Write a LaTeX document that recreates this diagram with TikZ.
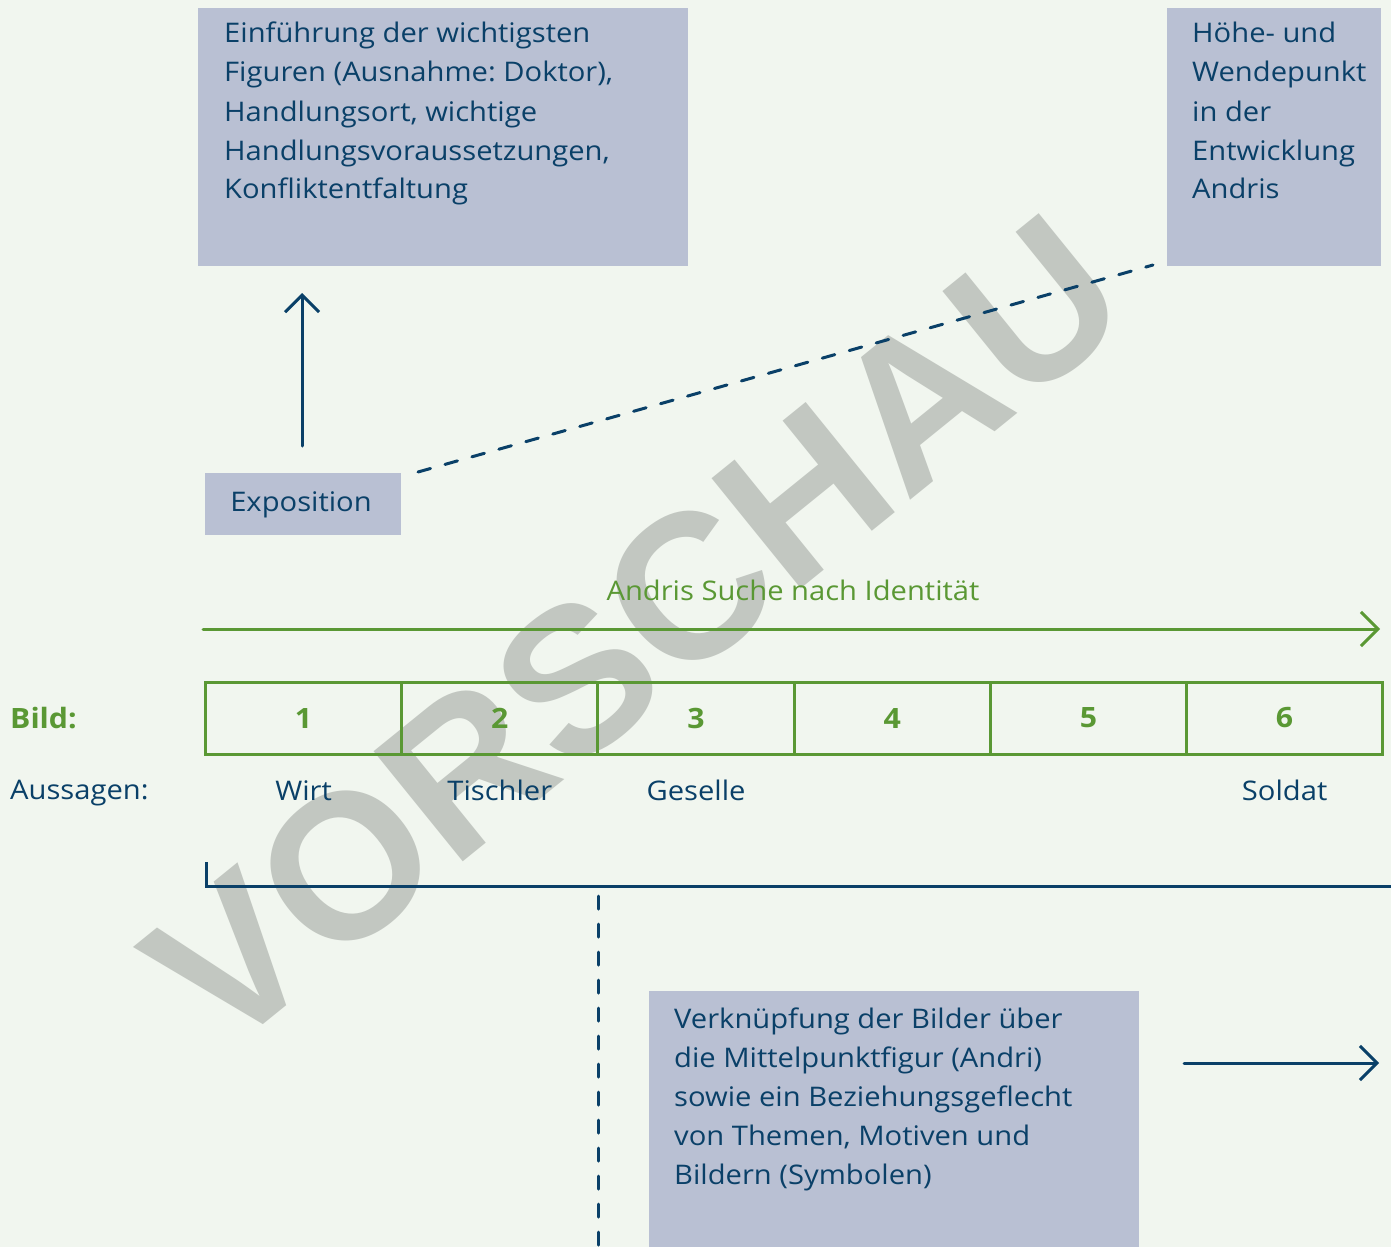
\documentclass[tikz,border=0pt]{standalone}
\usepackage{fontspec}
\setmainfont[FakeStretch=1.08]{Open Sans}
\newfontfamily\wmfont{Liberation Sans}
\usetikzlibrary{arrows.meta,calc}
\definecolor{bg}{RGB}{241,246,239}
\definecolor{boxc}{RGB}{185,192,211}
\definecolor{navy}{RGB}{10,64,104}
\definecolor{leaf}{RGB}{90,152,52}
\definecolor{wm}{RGB}{194,199,193}
\frenchspacing
\newcommand{\mylines}[1]{\vtop{\baselineskip=39pt\lineskiplimit=-100pt #1}}
\begin{document}
\begin{tikzpicture}[x=1pt,y=-1pt,
  panel/.style={fill=boxc, draw=none, inner sep=0pt, outer sep=0pt, anchor=north west},
  paneltext/.style={anchor=base west, inner sep=0pt, text=navy, font=\fontsize{27}{39}\selectfont},
  navyline/.style={draw=navy, line width=3pt, line cap=round, line join=round},
  greenline/.style={draw=leaf, line width=3pt},
  barb/.style={-{Straight Barb[length=17pt,width=34pt]}},
  dashline/.style={navyline, dash pattern=on 13pt off 15pt},
  cell/.style={draw=leaf, line width=3pt, minimum width=196.2pt, minimum height=72pt, inner sep=0pt, text=leaf, font=\bfseries\fontsize{28}{28}\selectfont},
  label/.style={inner sep=0pt, text=navy, font=\fontsize{27}{27}\selectfont}
]
\useasboundingbox (0,0) rectangle (1391,1247);
\fill[bg] (0,0) rectangle (1391,1247);

% watermark
\node[rotate=39, inner sep=0pt, text=wm, font=\wmfont\bfseries\fontsize{206}{206}\selectfont] (wmark) at (635,632) {VORSCHAU};

% panels
\node[panel, minimum width=490pt, minimum height=258pt] (intro) at (198,8) {};
\node[panel, minimum width=214pt, minimum height=258pt] (peak) at (1167,8) {};
\node[panel, minimum width=196pt, minimum height=62pt] (expo) at (205,473) {};
\node[panel, minimum width=490pt, minimum height=256pt] (link) at (649,991) {};

\node[paneltext] (introtext) at (224,43) {\mylines{\hbox{Einführung der wichtigsten}\hbox{Figuren (Ausnahme: Doktor),}\hbox{Handlungsort, wichtige}\hbox{Handlungsvoraussetzungen,}\hbox{Konfliktentfaltung}}};
\node[paneltext] (peaktext) at (1192,43) {\mylines{\hbox{Höhe- und}\hbox{Wendepunkt}\hbox{in der}\hbox{Entwicklung}\hbox{Andris}}};
\node[paneltext, anchor=base] (expotext) at (301,511) {Exposition};
\node[paneltext] (linktext) at (674,1028) {\mylines{\hbox{Verknüpfung der Bilder über}\hbox{die Mittelpunktfigur (Andri)}\hbox{sowie ein Beziehungsgeflecht}\hbox{von Themen, Motiven und}\hbox{Bildern (Symbolen)}}};

% connectors
\draw[navyline, barb] ($(expo.north)+(-1,-27)$) -- ($(intro.south west)+(104,27)$);
\draw[dashline] ($(expo.north east)+(17,-1)$) -- ($(peak.south west)+(-14,-1)$);

% timeline
\node[inner sep=0pt, anchor=base, text=leaf, font=\fontsize{27}{27}\selectfont] (quest) at (793,600) {Andris Suche nach Identität};
\coordinate (qstart) at (203,629);
\coordinate (qend) at (1380,629);
\draw[greenline, line cap=round, line join=round, barb] (qstart) -- (qend);

\foreach \i/\cx in {1/303.6,2/499.8,3/696,4/892.2,5/1088.4,6/1284.6}{
  \node[cell] (c\i) at (\cx,718) {\i};
}
\node[inner sep=0pt, anchor=base west, text=leaf, font=\bfseries\fontsize{28}{28}\selectfont] (bild) at (10,728) {Bild:};
\node[label, anchor=base west] (aussagen) at (10,799) {Aussagen:};
\node[label, anchor=base] (wirt) at (c1.center |- 0,800) {Wirt};
\node[label, anchor=base] (tisch) at (c2.center |- 0,800) {Tischler};
\node[label, anchor=base] (ges) at (c3.center |- 0,800) {Geselle};
\node[label, anchor=base] (sold) at (c6.center |- 0,800) {Soldat};

% bracket
\coordinate (btop) at (206,862);
\coordinate (bcorner) at (206,886);
\coordinate (bend) at (1391,886);
\draw[draw=navy, line width=3pt] (btop) -- (bcorner) -- (bend);

\coordinate (vtop) at (598,896);
\coordinate (vbot) at (598,1250);
\draw[dashline] (vtop) -- (vbot);

\coordinate (rstart) at (1184,1063);
\coordinate (rend) at (1379,1063);
\draw[navyline, barb] (rstart) -- (rend);
\end{tikzpicture}
\end{document}
